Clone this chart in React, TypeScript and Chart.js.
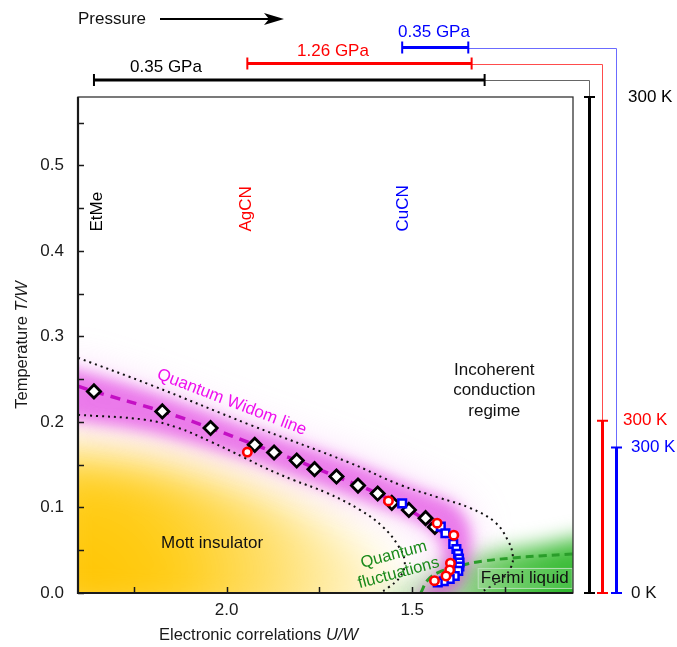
import React, { useEffect, useRef } from 'react';
import { Chart, registerables } from 'chart.js';

// Plugin registered first so its hooks run before the Filler plugin's fill drawing
const blurPlugin = {
  id: 'datasetBlur',
  beforeDatasetDraw(chart: any, args: any) {
    const ds = chart.data.datasets[args.index];
    if (ds && ds.blurPx) {
      chart.ctx.save();
      chart.ctx.filter = `blur(${ds.blurPx}px)`;
    }
  },
  afterDatasetDraw(chart: any, args: any) {
    const ds = chart.data.datasets[args.index];
    if (ds && ds.blurPx) chart.ctx.restore();
  },
};
Chart.register(blurPlugin as any);
Chart.register(...registerables);

const FONT = '"Liberation Sans", Arial, Helvetica, sans-serif';

// ---------- axes ----------
const X_MIN = 1.067;
const X_MAX = 2.4;
const Y_MIN = 0;
const Y_MAX = 0.58;
const xTickValues = [1.25, 1.5, 1.75, 2.0, 2.25];
const xTickLabels = ['', '1.5', '', '2.0', ''];
const yTickValues = [0, 0.05, 0.1, 0.15, 0.2, 0.25, 0.3, 0.35, 0.4, 0.45, 0.5, 0.55];
const yTickLabels = ['0.0', '', '0.1', '', '0.2', '', '0.3', '', '0.4', '', '0.5', ''];

// ---------- data series (U/W, T/W) ----------
// EtMe: black diamonds
const etmeUW = [2.357, 2.173, 2.043, 1.924, 1.872, 1.811, 1.763, 1.704, 1.646, 1.593, 1.555, 1.509, 1.464, 1.439];
const etmeT = [0.2357, 0.2123, 0.1929, 0.1733, 0.1643, 0.1549, 0.1448, 0.1362, 0.1256, 0.1163, 0.1054, 0.0972, 0.0875, 0.0773];
// AgCN: red circles
const agcnUW = [1.944, 1.564, 1.433, 1.388, 1.397, 1.399, 1.409, 1.44];
const agcnT = [0.1648, 0.1077, 0.0816, 0.0676, 0.0348, 0.0269, 0.0199, 0.0144];
// CuCN: blue squares
const cucnUW = [1.527, 1.423, 1.4105, 1.3895, 1.381, 1.3766, 1.374, 1.3726, 1.373, 1.376, 1.3855, 1.399, 1.415, 1.4312];
const cucnT = [0.1048, 0.0776, 0.0699, 0.0574, 0.0515, 0.0457, 0.0404, 0.0357, 0.031, 0.0258, 0.0199, 0.0164, 0.0137, 0.0123];
// Quantum Widom line (dashed magenta)
const widomUW = [2.4, 2.357, 2.173, 2.043, 1.924, 1.811, 1.704, 1.593, 1.509, 1.439, 1.4, 1.38, 1.372, 1.376, 1.39, 1.42];
const widomT = [0.2418, 0.2357, 0.2123, 0.1929, 0.1733, 0.1549, 0.1362, 0.1163, 0.0972, 0.0773, 0.062, 0.048, 0.035, 0.024, 0.016, 0.011];
// Crossover boundaries (dotted)
const upperUW = [2.4, 2.206, 1.937, 1.668, 1.533, 1.426, 1.345, 1.278, 1.243, 1.229, 1.235, 1.259, 1.291, 1.318];
const upperT = [0.275, 0.2436, 0.1967, 0.1522, 0.1265, 0.1112, 0.0995, 0.0831, 0.0621, 0.0433, 0.0293, 0.0164, 0.007, 0.0];
const lowerUW = [2.4, 2.22, 2.131, 2.042, 1.951, 1.897, 1.821, 1.73, 1.641, 1.579, 1.539, 1.52, 1.533, 1.566, 1.587];
const lowerT = [0.2084, 0.2026, 0.1932, 0.1768, 0.1581, 0.1464, 0.1323, 0.1171, 0.0972, 0.0773, 0.0562, 0.0363, 0.0187, 0.0059, 0.0];
// Fermi-liquid boundary (green dashed)
const fermiUW = [1.477, 1.458, 1.426, 1.364, 1.305, 1.229, 1.157, 1.068];
const fermiT = [0.0, 0.0152, 0.0246, 0.0328, 0.0375, 0.041, 0.0433, 0.0457];
// Shaded regions (closed outlines)
const widomBandUW = [2.448, 2.206, 1.937, 1.668, 1.48, 1.385, 1.345, 1.345, 1.372, 1.426, 1.493, 1.434, 1.415, 1.434, 1.493, 1.614, 1.803, 1.937, 2.206, 2.448];
const widomBandT = [0.267, 0.2354, 0.1932, 0.1534, 0.1206, 0.103, 0.0761, 0.0386, 0.0094, -0.0082, -0.0082, 0.0176, 0.0445, 0.0679, 0.0855, 0.1054, 0.1347, 0.1557, 0.1885, 0.2049];
const mottUW = [2.502, 2.206, 1.937, 1.722, 1.587, 1.533, 2.502];
const mottT = [0.1674, 0.1534, 0.1206, 0.0796, 0.0386, -0.0316, -0.0316];
const fermiRegionUW = [1.668, 1.614, 1.48, 1.318, 1.157, 0.995, 0.995];
const fermiRegionT = [-0.0316, -0.006, 0.021, 0.0445, 0.0562, 0.062, -0.0316];

// ---------- compounds / pressure & temperature ranges ----------
const compounds = ['EtMe', 'AgCN', 'CuCN'];
const compoundColors = ['#000000', '#ff0000', '#0000ff'];
const pressureLabels = ['0.35 GPa', '1.26 GPa', '0.35 GPa'];
const pressureStartUW = [2.357, 1.944, 1.527];
const pressureEndUW = [1.305, 1.34, 1.349];
const roomTempT = [0.58, 0.2014, 0.17];
const roomTempLabel = '300 K';
const zeroTempLabel = '0 K';
const compoundLabelUW = [2.3475, 1.9466, 1.5227];
const compoundLabelT = 0.4227;

// ---------- layout (pixels, outside the plot) ----------
const BAR_Y = [80, 63.5, 47.5];
const TEMP_BAR_X = [589, 602, 616];
const PRESS_LABEL = [
  { x: 166, y: 67 },
  { x: 333, y: 51.5 },
  { x: 434, y: 32 },
];
const TEMP_LABEL_X = [628, 623, 631];
const THIN_COLORS = ['#666666', '#ff4c4c', '#6b6bff'];

const regionLabels = [
  { lines: ['Quantum Widom line'], uw: 1.986, t: 0.223, angle: 21, size: 17, color: '#ee10ee', lh: 0 },
  { lines: ['Incoherent', 'conduction', 'regime'], uw: 1.279, t: 0.2365, angle: 0, size: 17, color: '#111', lh: 20.5 },
  { lines: ['Mott insulator'], uw: 2.039, t: 0.0585, angle: 0, size: 17, color: '#111', lh: 0 },
  { lines: ['Quantum', 'fluctuations'], uw: 1.543, t: 0.034, angle: -15, size: 16.5, color: '#1b8a1b', lh: 19 },
  { lines: ['Fermi liquid'], uw: 1.197, t: 0.0176, angle: 0, size: 17, color: '#111', lh: 0 },
];

const pts = (xs: number[], ys: number[]) => xs.map((x, i) => ({ x, y: ys[i] }));

function drawMixed(ctx: CanvasRenderingContext2D, parts: [string, boolean][], cx: number, cy: number, size: number) {
  let total = 0;
  const widths = parts.map(([s, it]) => {
    ctx.font = `${it ? 'italic ' : ''}${size}px ${FONT}`;
    const w = ctx.measureText(s).width;
    total += w;
    return w;
  });
  let x = cx - total / 2;
  ctx.textAlign = 'left';
  ctx.textBaseline = 'middle';
  parts.forEach(([s, it], i) => {
    ctx.font = `${it ? 'italic ' : ''}${size}px ${FONT}`;
    ctx.fillText(s, x, cy);
    x += widths[i];
  });
}

const decorPlugin = {
  id: 'decor',
  afterDraw(chart: any) {
    const ctx: CanvasRenderingContext2D = chart.ctx;
    const xs = chart.scales.x;
    const ys = chart.scales.y;
    const { left, right, top, bottom } = chart.chartArea;
    const X = (v: number) => xs.getPixelForValue(v);
    const Y = (v: number) => ys.getPixelForValue(v);
    ctx.save();

    // Fermi liquid label box
    {
      const fx = X(1.197), fy = Y(0.0176);
      ctx.fillStyle = 'rgba(255,255,255,0.12)';
      ctx.strokeStyle = 'rgba(190,225,190,0.9)';
      ctx.lineWidth = 1;
      ctx.fillRect(fx - 47, fy - 10, 94, 20);
      ctx.strokeRect(fx - 47 + 0.5, fy - 10 + 0.5, 94, 20);
    }

    // region labels
    for (const a of regionLabels) {
      ctx.save();
      ctx.translate(X(a.uw), Y(a.t));
      ctx.rotate((a.angle * Math.PI) / 180);
      ctx.font = `${a.size}px ${FONT}`;
      ctx.fillStyle = a.color;
      ctx.textAlign = 'center';
      ctx.textBaseline = 'middle';
      const n = a.lines.length;
      a.lines.forEach((ln, i) => ctx.fillText(ln, 0, (i - (n - 1) / 2) * a.lh));
      ctx.restore();
    }

    // compound labels (vertical)
    compounds.forEach((c, i) => {
      ctx.save();
      ctx.translate(X(compoundLabelUW[i]), Y(compoundLabelT));
      ctx.rotate(-Math.PI / 2);
      ctx.font = `17px ${FONT}`;
      ctx.fillStyle = compoundColors[i];
      ctx.textAlign = 'left';
      ctx.textBaseline = 'middle';
      ctx.fillText(c, 0, 0);
      ctx.restore();
    });

    // frame
    ctx.strokeStyle = '#333';
    ctx.lineWidth = 1.3;
    ctx.strokeRect(left, top, right - left, bottom - top);
    ctx.strokeStyle = '#1a1a1a';
    ctx.lineWidth = 2.2;
    ctx.beginPath();
    ctx.moveTo(left, top);
    ctx.lineTo(left, bottom);
    ctx.lineTo(right, bottom);
    ctx.stroke();

    // inward ticks
    ctx.lineWidth = 1.5;
    ctx.strokeStyle = '#1a1a1a';
    ctx.beginPath();
    for (const v of yTickValues) {
      const py = Math.round(Y(v)) + 0.5;
      ctx.moveTo(left, py);
      ctx.lineTo(left + 6, py);
    }
    for (const v of xTickValues) {
      const px = Math.round(X(v)) + 0.5;
      ctx.moveTo(px, bottom);
      ctx.lineTo(px, bottom - 6);
    }
    ctx.stroke();

    // axis titles
    ctx.fillStyle = '#1a1a1a';
    ctx.save();
    ctx.translate(22, (top + bottom) / 2);
    ctx.rotate(-Math.PI / 2);
    drawMixed(ctx, [['Temperature ', false], ['T/W', true]], 0, 0, 16.5);
    ctx.restore();
    drawMixed(ctx, [['Electronic correlations ', false], ['U/W', true]], 258.5, 635, 16.5);

    // Pressure arrow
    ctx.font = `17px ${FONT}`;
    ctx.textAlign = 'left';
    ctx.textBaseline = 'middle';
    ctx.fillStyle = '#111';
    ctx.fillText('Pressure', 78, 19);
    ctx.strokeStyle = '#000';
    ctx.lineWidth = 2;
    ctx.beginPath();
    ctx.moveTo(160, 19);
    ctx.lineTo(272, 19);
    ctx.stroke();
    ctx.fillStyle = '#000';
    ctx.beginPath();
    ctx.moveTo(284, 19);
    ctx.lineTo(264, 13);
    ctx.lineTo(269, 19);
    ctx.lineTo(264, 25);
    ctx.closePath();
    ctx.fill();

    // pressure bars + temperature bars
    compounds.forEach((c, i) => {
      const col = compoundColors[i];
      const x0 = X(pressureStartUW[i]);
      const x1 = X(pressureEndUW[i]);
      const by = BAR_Y[i];
      const tx = TEMP_BAR_X[i];
      const tTop = Y(roomTempT[i]);
      const tBot = Y(0);
      // thin connector
      ctx.strokeStyle = THIN_COLORS[i];
      ctx.lineWidth = 1;
      ctx.beginPath();
      ctx.moveTo(x1, Math.round(by) + 0.5);
      ctx.lineTo(tx + 0.5, Math.round(by) + 0.5);
      ctx.lineTo(tx + 0.5, tTop);
      ctx.stroke();
      // pressure bar
      ctx.strokeStyle = col;
      ctx.lineWidth = 3;
      ctx.beginPath();
      ctx.moveTo(x0, by);
      ctx.lineTo(x1, by);
      ctx.stroke();
      ctx.lineWidth = 2;
      ctx.beginPath();
      ctx.moveTo(x0, by - 6);
      ctx.lineTo(x0, by + 6);
      ctx.moveTo(x1, by - 6);
      ctx.lineTo(x1, by + 6);
      ctx.stroke();
      // pressure label
      ctx.font = `17px ${FONT}`;
      ctx.fillStyle = col;
      ctx.textAlign = 'center';
      ctx.textBaseline = 'middle';
      ctx.fillText(pressureLabels[i], PRESS_LABEL[i].x, PRESS_LABEL[i].y);
      // temperature bar
      ctx.strokeStyle = col;
      ctx.lineWidth = 3;
      ctx.beginPath();
      ctx.moveTo(tx + 0.5, tTop);
      ctx.lineTo(tx + 0.5, tBot);
      ctx.stroke();
      ctx.lineWidth = 2;
      ctx.beginPath();
      ctx.moveTo(tx - 5, tTop);
      ctx.lineTo(tx + 6, tTop);
      ctx.moveTo(tx - 5, tBot);
      ctx.lineTo(tx + 6, tBot);
      ctx.stroke();
      // temperature label
      ctx.textAlign = 'left';
      ctx.fillStyle = col;
      ctx.fillText(roomTempLabel, TEMP_LABEL_X[i], tTop);
    });
    ctx.fillStyle = '#111';
    ctx.textAlign = 'left';
    ctx.textBaseline = 'middle';
    ctx.fillText(zeroTempLabel, 631, Y(0));

    ctx.restore();
  },
};

export default function App() {
  const ref = useRef<HTMLCanvasElement | null>(null);
  useEffect(() => {
    if (!ref.current) return;
    const yellowGrad = (c: any) => {
      const ch = c.chart;
      const ca = ch.chartArea;
      if (!ca) return 'rgba(0,0,0,0)';
      const g = ch.ctx.createRadialGradient(ca.left, ca.bottom, 0, ca.left, ca.bottom, 400);
      g.addColorStop(0, 'rgba(255,196,0,1)');
      g.addColorStop(0.25, 'rgba(255,205,25,1)');
      g.addColorStop(0.5, 'rgba(255,220,95,0.9)');
      g.addColorStop(0.75, 'rgba(255,238,170,0.6)');
      g.addColorStop(1, 'rgba(255,250,230,0)');
      return g;
    };
    const greenGrad = (c: any) => {
      const ch = c.chart;
      const ca = ch.chartArea;
      if (!ca) return 'rgba(0,0,0,0)';
      const g = ch.ctx.createRadialGradient(ca.right, ca.bottom, 0, ca.right, ca.bottom, 240);
      g.addColorStop(0, 'rgba(35,180,35,1)');
      g.addColorStop(0.35, 'rgba(90,198,80,0.88)');
      g.addColorStop(0.7, 'rgba(165,222,155,0.55)');
      g.addColorStop(1, 'rgba(230,245,225,0)');
      return g;
    };
    const lineBase = { pointRadius: 0, pointHoverRadius: 0, showLine: true, fill: false };
    const chart = new Chart(ref.current, {
      type: 'line',
      data: {
        datasets: [
          {
            label: 'AgCN', data: pts(agcnUW, agcnT), showLine: false, order: 0,
            pointStyle: 'circle', pointRadius: 4.2, pointHoverRadius: 4.2, pointBorderWidth: 2.6,
            pointBackgroundColor: '#ffffff', pointBorderColor: '#ff0000', borderColor: '#ff0000',
          },
          {
            label: 'CuCN', data: pts(cucnUW, cucnT), showLine: false, order: 1,
            pointStyle: 'rect', pointRadius: 5.4, pointHoverRadius: 5.4, pointBorderWidth: 2.5,
            pointBackgroundColor: '#ffffff', pointBorderColor: '#0000ff', borderColor: '#0000ff',
          },
          {
            label: 'EtMe', data: pts(etmeUW, etmeT), showLine: false, order: 2,
            pointStyle: 'rectRot', pointRadius: 6.6, pointHoverRadius: 6.6, pointBorderWidth: 2.8,
            pointBackgroundColor: '#ffffff', pointBorderColor: '#000000', borderColor: '#000000',
          },
          {
            ...lineBase, label: 'Widom', data: pts(widomUW, widomT), order: 3,
            borderColor: '#c410c4', borderWidth: 3.5, borderDash: [10, 7], tension: 0.4,
          },
          {
            ...lineBase, label: 'Fermi', data: pts(fermiUW, fermiT), order: 4,
            borderColor: '#2a9d2a', borderWidth: 3, borderDash: [8, 5], tension: 0.4,
          },
          {
            ...lineBase, label: 'upper', data: pts(upperUW, upperT), order: 5,
            borderColor: '#111111', borderWidth: 2, borderDash: [2, 4], tension: 0.4,
          },
          {
            ...lineBase, label: 'lower', data: pts(lowerUW, lowerT), order: 6,
            borderColor: '#111111', borderWidth: 2, borderDash: [2, 4], tension: 0.4,
          },
          {
            ...lineBase, label: 'bandCore', data: pts(widomBandUW, widomBandT), order: 7,
            borderWidth: 0, fill: 'shape', backgroundColor: 'rgba(225,60,225,0.62)', tension: 0.3,
            blurPx: 7,
          } as any,
          {
            ...lineBase, label: 'bandHalo', data: pts(widomBandUW, widomBandT), order: 8,
            borderWidth: 0, fill: 'shape', backgroundColor: 'rgba(240,125,240,0.35)', tension: 0.3,
            blurPx: 20,
          } as any,
          {
            ...lineBase, label: 'fermiRegion', data: pts(fermiRegionUW, fermiRegionT), order: 9,
            borderWidth: 0, fill: 'shape', backgroundColor: greenGrad, tension: 0.3,
            blurPx: 10,
          } as any,
          {
            ...lineBase, label: 'mott', data: pts(mottUW, mottT), order: 10,
            borderWidth: 0, fill: 'shape', backgroundColor: yellowGrad, tension: 0.3,
            blurPx: 22,
          } as any,
        ],
      },
      options: {
        animation: false,
        responsive: false,
        events: [],
        layout: { padding: { left: 0, right: 104, top: 97, bottom: 0 } },
        plugins: {
          legend: { display: false },
          tooltip: { enabled: false },
        },
        scales: {
          x: {
            type: 'linear',
            reverse: true,
            min: X_MIN,
            max: X_MAX,
            grid: { display: false, drawTicks: false },
            border: { display: false },
            afterBuildTicks: (s: any) => {
              s.ticks = xTickValues.map((v) => ({ value: v }));
            },
            afterFit: (s: any) => {
              s.height = 54;
            },
            ticks: {
              autoSkip: false,
              maxRotation: 0,
              padding: 7,
              color: '#1a1a1a',
              font: { family: FONT, size: 17 },
              callback: (_v: any, i: number) => xTickLabels[i],
            },
          },
          y: {
            type: 'linear',
            min: Y_MIN,
            max: Y_MAX,
            grid: { display: false, drawTicks: false },
            border: { display: false },
            afterBuildTicks: (s: any) => {
              s.ticks = yTickValues.map((v) => ({ value: v }));
            },
            afterFit: (s: any) => {
              s.width = 78;
            },
            ticks: {
              autoSkip: false,
              padding: 14,
              color: '#1a1a1a',
              font: { family: FONT, size: 17 },
              callback: (_v: any, i: number) => yTickLabels[i],
            },
          },
        },
      } as any,
      plugins: [decorPlugin as any],
    });
    return () => chart.destroy();
  }, []);
  return (
    <div style={{ position: 'absolute', left: 0, top: 0, width: 677, height: 647, background: '#fff' }}>
      <canvas ref={ref} width={677} height={647} style={{ width: 677, height: 647, display: 'block' }} />
    </div>
  );
}
